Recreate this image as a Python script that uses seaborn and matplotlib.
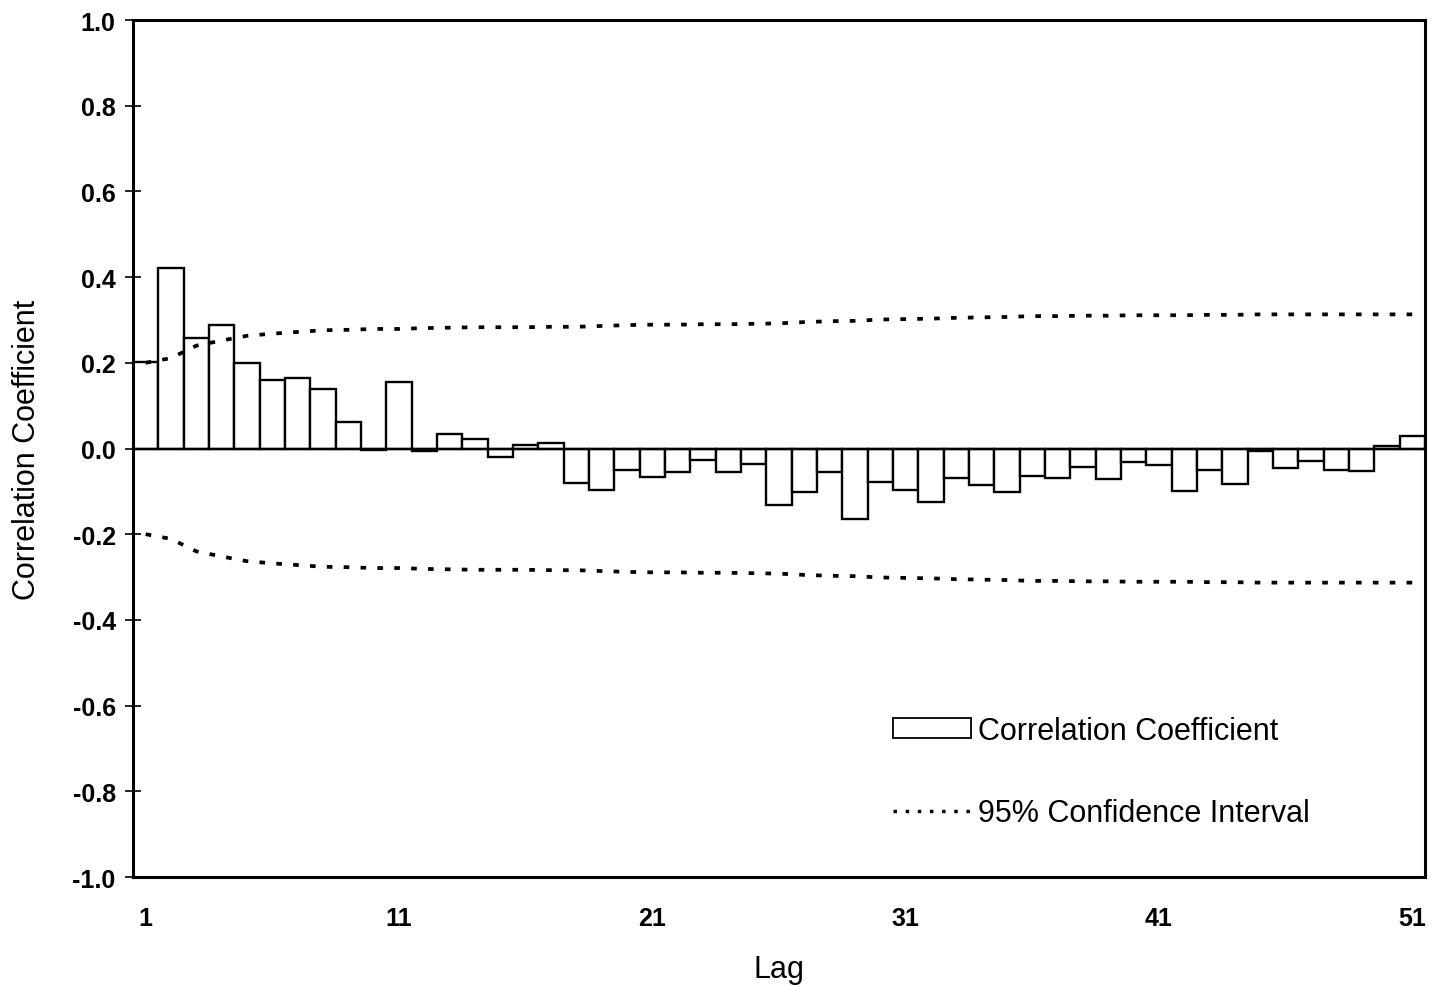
import numpy as np
import matplotlib
matplotlib.use("Agg")
import matplotlib.pyplot as plt
import matplotlib.ticker as mticker
from matplotlib.patches import Patch
from matplotlib.lines import Line2D
import seaborn as sns

# ─── DATA ─────────────────────────────────────────────────────────────────────
lags = list(range(1, 52))

acf = [
    0.201, 0.421, 0.259, 0.289, 0.200, 0.161, 0.165, 0.138, 0.062, -0.003,
    0.156, -0.005, 0.035, 0.023, -0.019, 0.009, 0.014, -0.081, -0.098, -0.051,
    -0.066, -0.056, -0.027, -0.056, -0.037, -0.131, -0.102, -0.055, -0.164, -0.078,
    -0.096, -0.124, -0.068, -0.086, -0.102, -0.065, -0.069, -0.044, -0.072, -0.032,
    -0.038, -0.100, -0.051, -0.083, -0.005, -0.046, -0.030, -0.051, -0.052, 0.005,
    0.030,
]

ci_upper = [
    0.200, 0.211, 0.240, 0.252, 0.263, 0.268, 0.272, 0.276, 0.277, 0.279,
    0.279, 0.281, 0.282, 0.283, 0.283, 0.283, 0.284, 0.284, 0.286, 0.288,
    0.289, 0.289, 0.290, 0.290, 0.291, 0.292, 0.295, 0.297, 0.298, 0.301,
    0.302, 0.303, 0.305, 0.306, 0.307, 0.309, 0.309, 0.310, 0.310, 0.311,
    0.311, 0.311, 0.312, 0.312, 0.313, 0.313, 0.313, 0.313, 0.313, 0.313,
    0.313,
]
ci_lower = [-v for v in ci_upper]

ytick_vals = [-1.0, -0.8, -0.6, -0.4, -0.2, 0.0, 0.2, 0.4, 0.6, 0.8, 1.0]
xtick_vals = [1, 11, 21, 31, 41, 51]

# ─── STYLE ────────────────────────────────────────────────────────────────────
sns.set_style("white")
plt.rcParams["font.family"] = ["Liberation Sans", "DejaVu Sans"]
plt.rcParams["axes.unicode_minus"] = False
plt.rcParams["text.color"] = "black"
plt.rcParams["axes.labelcolor"] = "black"
plt.rcParams["xtick.color"] = "black"
plt.rcParams["ytick.color"] = "black"

fig = plt.figure(figsize=(14.33, 9.87), dpi=100)
ax = fig.add_axes([133 / 1433, 1 - 878 / 987, 1292 / 1433, 857 / 987])

# bars
sns.barplot(x=lags, y=acf, native_scale=True, width=1, color="white",
            edgecolor="black", linewidth=1.7, ax=ax, zorder=2)
for p in ax.patches:
    p.set_facecolor("white")

ax.axhline(0, color="black", lw=1.7, zorder=3)

dot_style = (0, (1.5, 3))
sns.lineplot(x=lags, y=ci_upper, color="black", lw=2.7, linestyle=dot_style,
             ax=ax, zorder=4)
sns.lineplot(x=lags, y=ci_lower, color="black", lw=2.7, linestyle=dot_style,
             ax=ax, zorder=4)

ax.set_xlim(0.5, 51.5)
ax.set_ylim(-1.0, 1.0)
ax.set_yticks(ytick_vals)
ax.yaxis.set_major_formatter(mticker.FormatStrFormatter("%.1f"))
ax.set_xticks(xtick_vals)
ax.set_xticklabels([str(v) for v in xtick_vals])

for s in ax.spines.values():
    s.set_visible(True)
    s.set_color("black")
    s.set_linewidth(2.2)

ax.tick_params(axis="y", direction="inout", length=11, width=1.2, pad=7,
               labelsize=18, left=True)
ax.tick_params(axis="x", length=0, pad=21, labelsize=18)
for lbl in ax.get_xticklabels() + ax.get_yticklabels():
    lbl.set_fontweight("bold")

ax.set_xlabel("Lag", fontsize=22, labelpad=17)
ax.set_ylabel("Correlation Coefficient", fontsize=22, labelpad=22)

handles = [
    Patch(facecolor="white", edgecolor="black", linewidth=1.3,
          label="Correlation Coefficient"),
    Line2D([0], [0], color="black", lw=2.5, linestyle=(0, (1.0, 2.5)),
           label="95% Confidence Interval"),
]
ax.legend(handles=handles, loc="upper left", bbox_to_anchor=(0.588, 0.188),
          frameon=False, fontsize=22, handlelength=2.55, handleheight=0.62,
          handletextpad=0.25, labelspacing=1.7, borderpad=0, borderaxespad=0)

plt.savefig("out.png", dpi=100)
